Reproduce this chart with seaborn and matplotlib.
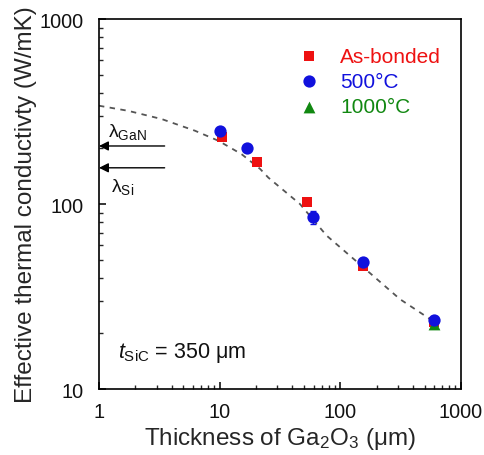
import numpy as np
import pandas as pd
import matplotlib
matplotlib.use("Agg")
import matplotlib.pyplot as plt
import seaborn as sns
from matplotlib.ticker import FixedLocator, FixedFormatter, LogLocator, NullFormatter

# ---- data ----
asb_x = [10.4, 20.3, 52.6, 153, 601]
asb_y = [229, 168, 103, 46.4, 22.9]
asb_err = [8, 5, 4, 2, 1]

c500_x = [10.1, 16.7, 59, 155, 600]
c500_y = [249, 200, 84.7, 48.4, 23.7]
c500_err = [12, 6, 7, 2.5, 1.2]

c1000_x = [600]
c1000_y = [22.6]
c1000_err = [0.8]

fit_x = [1.0, 1.75, 3.31, 6.25, 9.74, 15.2, 21.6, 25.3, 46.3, 77, 155, 312, 553, 610]
fit_y = [340, 319, 288, 249, 220, 186, 155, 139, 100, 67.5, 45.5, 30.6, 23.9, 22.7]

lam_gan = 206
lam_si = 157

xticks = [1, 10, 100, 1000]
xtick_labels = ["1", "10", "100", "1000"]
yticks = [10, 100, 1000]
ytick_labels = ["10", "100", "1000"]

series_names = ["As-bonded", "500°C", "1000°C"]
series_colors = ["#ee1111", "#1111dd", "#118811"]

# ---- style ----
sns.set_style("white")
plt.rcParams['font.family'] = ['Liberation Sans', 'DejaVu Sans']
plt.rcParams['mathtext.fontset'] = 'custom'
plt.rcParams['mathtext.rm'] = 'Liberation Sans'
plt.rcParams['mathtext.it'] = 'Liberation Sans:italic'
plt.rcParams['mathtext.bf'] = 'Liberation Sans:bold'
plt.rcParams['text.color'] = '#111111'

fig = plt.figure(figsize=(4.84, 4.56), dpi=100)
ax = fig.add_axes([0.2045, 0.1447, 0.748, 0.8113])

fit_df = pd.DataFrame({"x": fit_x, "y": fit_y})
sns.lineplot(data=fit_df, x="x", y="y", ax=ax, color="#555555", lw=1.3,
             linestyle=(0, (3, 3)), estimator=None, sort=False, legend=False)

ax.set_xscale("log")
ax.set_yscale("log")

# error bars
ax.errorbar(asb_x, asb_y, yerr=asb_err, fmt="none", ecolor=series_colors[0], elinewidth=1, capsize=0, zorder=3)
ax.errorbar(c1000_x, c1000_y, yerr=c1000_err, fmt="none", ecolor=series_colors[2], elinewidth=1, capsize=0, zorder=3)
ax.errorbar(c500_x, c500_y, yerr=c500_err, fmt="none", ecolor=series_colors[1], elinewidth=1, capsize=2, zorder=3)

sns.scatterplot(x=asb_x, y=asb_y, ax=ax, marker="s", s=62, color=series_colors[0],
                edgecolor=series_colors[0], linewidth=0, label=series_names[0], zorder=4)
sns.scatterplot(x=c500_x, y=c500_y, ax=ax, marker="o", s=78, color=series_colors[1],
                edgecolor=series_colors[1], linewidth=0, label=series_names[1], zorder=5)
sns.scatterplot(x=c1000_x, y=c1000_y, ax=ax, marker="^", s=72, color=series_colors[2],
                edgecolor=series_colors[2], linewidth=0, label=series_names[2], zorder=4.5)

ax.set_xlim(1, 1000)
ax.set_ylim(10, 1000)

ax.xaxis.set_major_locator(FixedLocator(xticks))
ax.xaxis.set_major_formatter(FixedFormatter(xtick_labels))
ax.yaxis.set_major_locator(FixedLocator(yticks))
ax.yaxis.set_major_formatter(FixedFormatter(ytick_labels))
ax.xaxis.set_minor_locator(LogLocator(base=10, subs=np.arange(2, 10)))
ax.yaxis.set_minor_locator(LogLocator(base=10, subs=np.arange(2, 10)))
ax.xaxis.set_minor_formatter(NullFormatter())
ax.yaxis.set_minor_formatter(NullFormatter())

ax.tick_params(axis="both", which="major", direction="in", length=5, width=1.1,
               labelsize=14.3, colors="black", labelcolor="#111111",
               bottom=True, left=True, top=False, right=False)
ax.tick_params(axis="x", which="major", pad=9)
ax.tick_params(axis="y", which="major", pad=11)
ax.tick_params(axis="both", which="minor", direction="in", length=3, width=1.0,
               bottom=True, left=True, top=False, right=False)
for sp in ax.spines.values():
    sp.set_color("black")
    sp.set_linewidth(1.2)

ax.set_xlabel(r"Thickness of Ga$_2$O$_3$ (μm)", fontsize=17.5, labelpad=3)
ax.set_ylabel("Effective thermal conductivty (W/mK)", fontsize=17.5, labelpad=2)

# arrows
for yv in (lam_gan, lam_si):
    ax.annotate("", xy=(1.0, yv), xytext=(3.5, yv),
                arrowprops=dict(arrowstyle="-|>", color="black", lw=1.0,
                                mutation_scale=14, shrinkA=0, shrinkB=0))
ax.text(1.18, 218, r"$\mathrm{\lambda}_{\mathrm{GaN}}$", fontsize=14, ha="left", va="bottom")
ax.text(1.26, 142, r"$\mathrm{\lambda}_{\mathrm{Si}}$", fontsize=14, ha="left", va="top")

ax.text(1.45, 15.8, r"$t_{\mathrm{SiC}}$ = 350 μm", fontsize=15.5, ha="left", va="center")

leg = ax.legend(loc="upper right", bbox_to_anchor=(0.985, 0.965), frameon=False,
                fontsize=15, handletextpad=1.0, labelspacing=0.3, handlelength=1.0,
                borderaxespad=0.3)
for txt, col in zip(leg.get_texts(), series_colors):
    txt.set_color(col)

fig.savefig("out.png", dpi=100)
